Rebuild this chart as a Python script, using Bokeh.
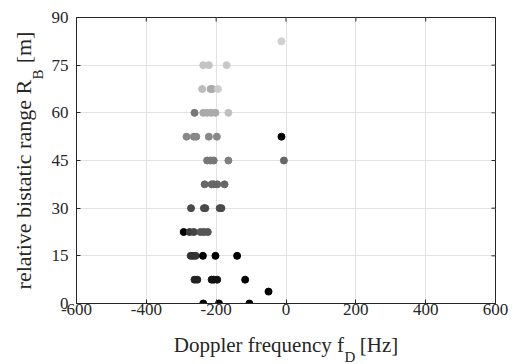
import math
from bokeh.plotting import figure
from bokeh.models import (ColumnDataSource, FixedTicker, Range1d, Label)
from bokeh.embed import file_html
from bokeh.resources import INLINE

# ---- data ----
doppler = [
    -237, -192, -105,                      # R = 0
    -50,                                   # R = 3.75
    -262, -254, -213, -207, -197, -117,    # R = 7.5
    -273, -266, -259, -238, -202, -140,    # R = 15
    -293, -276, -264, -245, -235, -224,    # R = 22.5
    -272, -235, -231, -190, -185,          # R = 30
    -233, -213, -207, -197, -176,          # R = 37.5
    -226, -216, -207, -165, -6,            # R = 45
    -285, -264, -257, -221, -198, -13,     # R = 52.5
    -262, -237, -226, -214, -202, -165,    # R = 60
    -240, -216, -211, -195,                # R = 67.5
    -237, -221, -170,                      # R = 75
    -13,                                   # R = 82.5
]
rng = (
    [0] * 3 + [3.75] + [7.5] * 6 + [15] * 6 + [22.5] * 6 + [30] * 5 + [37.5] * 5
    + [45] * 5 + [52.5] * 6 + [60] * 6 + [67.5] * 4 + [75] * 3 + [82.5]
)
# gray level of each point (0 = black, 255 = white)
shade = [
    0, 0, 0,
    0,
    34, 34, 17, 17, 17, 0,
    51, 51, 51, 0, 0, 0,
    0, 58, 68, 85, 85, 85,
    74, 74, 74, 74, 74,
    102, 102, 102, 102, 102,
    119, 119, 119, 128, 102,
    136, 136, 136, 136, 136, 0,
    119, 170, 170, 170, 170, 192,
    189, 170, 170, 204,
    196, 196, 200,
    208,
]
x_ticks = [-600, -400, -200, 0, 200, 400, 600]
y_ticks = [0, 15, 30, 45, 60, 75, 90]

colors = ["#%02x%02x%02x" % (g, g, g) for g in shade]
src = ColumnDataSource(dict(x=doppler, y=rng, c=colors))

FONT = "Liberation Serif"
INK = "#262626"

p = figure(width=515, height=364, output_backend="svg", toolbar_location=None,
           x_range=Range1d(x_ticks[0], x_ticks[-1]), y_range=Range1d(y_ticks[0], y_ticks[-1]),
           min_border_left=76, min_border_right=20, min_border_top=17, min_border_bottom=61,
           background_fill_color="white", border_fill_color="white")
p.outline_line_color = INK
p.outline_line_width = 1

xt = FixedTicker(ticks=x_ticks)
yt = FixedTicker(ticks=y_ticks)
p.xgrid.ticker = xt
p.ygrid.ticker = yt
p.grid.grid_line_color = "#e3e3e3"
p.grid.grid_line_width = 1

p.scatter("x", "y", source=src, size=7, fill_color="c", line_color="c", marker="circle")

# inward ticks on the top and right edges of the box
n = len(x_ticks)
p.scatter(x=x_ticks, y=[y_ticks[-1]] * n, marker="dash", size=8, angle=math.pi / 2,
          line_color=INK, line_width=1)
m = len(y_ticks)
p.scatter(x=[x_ticks[-1]] * m, y=y_ticks, marker="dash", size=8,
          line_color=INK, line_width=1)

for ax in (p.xaxis[0], p.yaxis[0]):
    ax.major_label_text_font = FONT
    ax.major_label_text_font_size = "17px"
    ax.major_label_text_color = INK
    ax.axis_line_color = INK
    ax.major_tick_line_color = INK
    ax.major_tick_in = 4
    ax.major_tick_out = 0
    ax.minor_tick_line_color = None
    ax.axis_label_text_font = FONT
    ax.axis_label_text_font_style = "normal"
    ax.axis_label_text_color = INK
p.xaxis[0].ticker = xt
p.yaxis[0].ticker = yt
p.xaxis[0].major_label_overrides = {t: str(t) for t in x_ticks}
p.yaxis[0].major_label_overrides = {t: str(t) for t in y_ticks}
p.xaxis[0].major_label_standoff = 0
p.yaxis[0].major_label_standoff = 8
p.xaxis[0].axis_label_standoff = 15
p.yaxis[0].axis_label_standoff = 13
p.xaxis[0].axis_label_text_font_size = "21px"
p.yaxis[0].axis_label_text_font_size = "22px"

# the en space leaves room for the subscript letter
p.xaxis[0].axis_label = "Doppler frequency f\u2002 [Hz]"
p.yaxis[0].axis_label = "relative bistatic range R\u2002 [m]"

# subscripts, in side panels that have room for them
p.add_layout(Label(x=-151, y=-53, x_units="screen", y_units="screen", text="D",
                   text_font=FONT, text_font_size="15px", text_color=INK,
                   text_align="left", text_baseline="alphabetic"), "right")
p.add_layout(Label(x=-39, y=-62, x_units="screen", y_units="screen", text="B",
                   text_font=FONT, text_font_size="15px", text_color=INK,
                   text_align="left", text_baseline="alphabetic", angle=math.pi / 2), "above")

open("out.html", "w").write(file_html(p, INLINE))
